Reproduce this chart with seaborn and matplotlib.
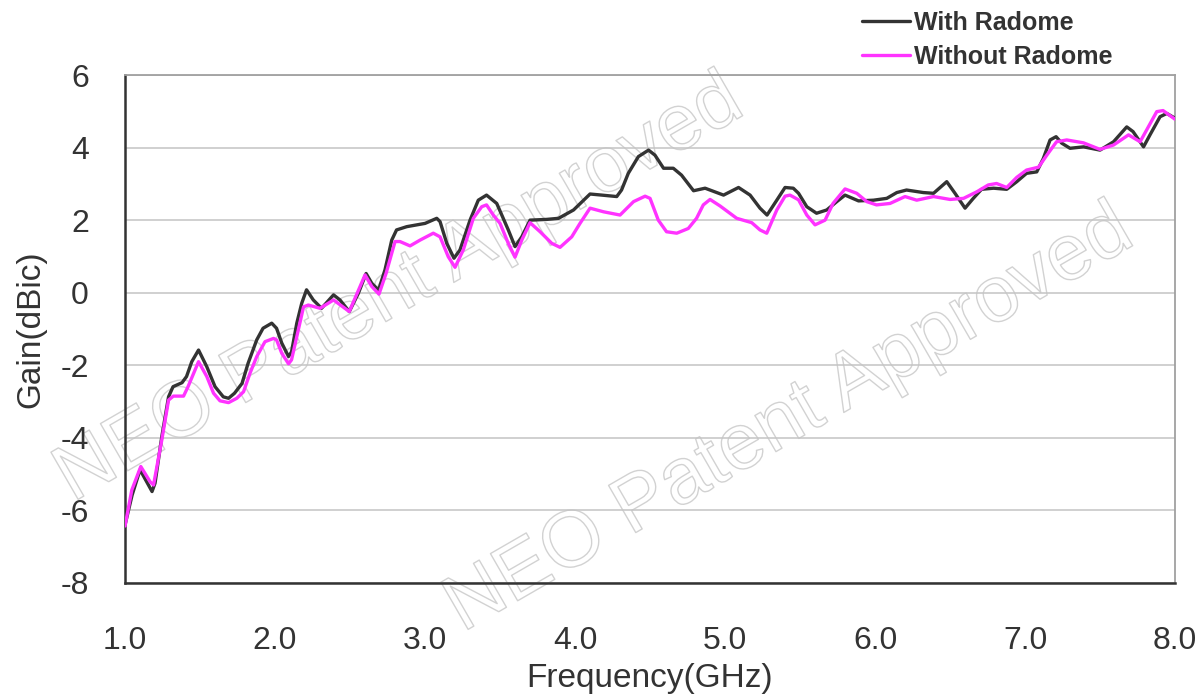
import seaborn as sns
import matplotlib.pyplot as plt
import matplotlib.patheffects as pe
from matplotlib.ticker import MultipleLocator, FormatStrFormatter
import pandas as pd

# With Radome (black)
freq_with = [1.0, 1.047, 1.10, 1.18, 1.20, 1.245, 1.29, 1.32, 1.38, 1.41, 1.445, 1.49, 1.545,
             1.60, 1.655, 1.69, 1.73, 1.78, 1.82, 1.878, 1.92, 1.978, 2.01, 2.045, 2.09, 2.11,
             2.145, 2.178, 2.21, 2.255, 2.31, 2.39, 2.433, 2.495, 2.555, 2.607, 2.645, 2.69,
             2.733, 2.778, 2.81, 2.878, 3.0, 3.078, 3.10, 3.145, 3.193, 3.233, 3.30, 3.355,
             3.41, 3.478, 3.555, 3.60, 3.645, 3.70, 3.81, 3.89, 3.99, 4.10, 4.178, 4.278,
             4.31, 4.355, 4.422, 4.49, 4.533, 4.59, 4.655, 4.71, 4.79, 4.867, 4.99, 5.09,
             5.167, 5.233, 5.28, 5.345, 5.40, 5.455, 5.49, 5.545, 5.61, 5.678, 5.745, 5.80,
             5.89, 5.99, 6.078, 6.145, 6.21, 6.322, 6.39, 6.478, 6.533, 6.60, 6.655, 6.71,
             6.79, 6.878, 6.945, 7.01, 7.078, 7.122, 7.167, 7.207, 7.245, 7.30, 7.39, 7.50,
             7.59, 7.678, 7.72, 7.79, 7.833, 7.90, 7.945, 8.0]
gain_with = [-6.40, -5.58, -4.88, -5.48, -5.25, -3.97, -2.87, -2.59, -2.48, -2.31, -1.90, -1.58, -2.04,
             -2.59, -2.87, -2.91, -2.77, -2.50, -1.95, -1.30, -0.98, -0.84, -0.98, -1.39, -1.76, -1.63,
             -0.84, -0.29, 0.08, -0.20, -0.43, -0.06, -0.20, -0.52, -0.02, 0.53, 0.26, 0.07,
             0.63, 1.45, 1.73, 1.82, 1.91, 2.05, 1.96, 1.36, 0.95, 1.18, 2.00, 2.55,
             2.69, 2.46, 1.73, 1.27, 1.54, 2.00, 2.02, 2.05, 2.28, 2.72, 2.69, 2.65,
             2.83, 3.29, 3.75, 3.93, 3.79, 3.43, 3.43, 3.24, 2.81, 2.88, 2.69, 2.90,
             2.69, 2.33, 2.14, 2.55, 2.90, 2.88, 2.74, 2.37, 2.19, 2.28, 2.51, 2.69,
             2.53, 2.55, 2.60, 2.76, 2.83, 2.76, 2.74, 3.06, 2.74, 2.33, 2.60, 2.85,
             2.88, 2.85, 3.06, 3.29, 3.33, 3.70, 4.21, 4.30, 4.12, 3.98, 4.02, 3.93,
             4.16, 4.57, 4.44, 4.02, 4.35, 4.85, 4.94, 4.81]

# Without Radome (magenta)
freq_without = [1.0, 1.045, 1.105, 1.167, 1.19, 1.245, 1.29, 1.322, 1.39, 1.42, 1.49, 1.545,
                1.59, 1.633, 1.69, 1.745, 1.79, 1.833, 1.878, 1.933, 1.99, 2.01, 2.045, 2.09,
                2.11, 2.145, 2.19, 2.222, 2.30, 2.39, 2.495, 2.60, 2.645, 2.693, 2.74, 2.80,
                2.833, 2.90, 2.967, 3.055, 3.10, 3.155, 3.20, 3.255, 3.322, 3.378, 3.41, 3.455,
                3.50, 3.555, 3.60, 3.645, 3.70, 3.767, 3.845, 3.90, 3.978, 4.033, 4.10, 4.19,
                4.30, 4.39, 4.467, 4.50, 4.555, 4.61, 4.678, 4.755, 4.81, 4.855, 4.90, 4.967,
                5.078, 5.178, 5.233, 5.278, 5.345, 5.40, 5.433, 5.49, 5.545, 5.60, 5.667, 5.72,
                5.80, 5.878, 5.945, 6.01, 6.10, 6.20, 6.278, 6.39, 6.50, 6.59, 6.678, 6.755,
                6.81, 6.878, 6.945, 7.01, 7.09, 7.145, 7.21, 7.278, 7.39, 7.50, 7.59, 7.69,
                7.767, 7.81, 7.878, 7.92, 8.0]
gain_without = [-6.43, -5.44, -4.79, -5.21, -5.30, -4.06, -2.96, -2.85, -2.85, -2.59, -1.90, -2.31,
                -2.77, -2.98, -3.03, -2.91, -2.73, -2.22, -1.76, -1.35, -1.26, -1.30, -1.67, -1.96,
                -1.85, -1.21, -0.39, -0.34, -0.43, -0.20, -0.52, 0.49, 0.17, -0.04, 0.53, 1.41,
                1.41, 1.29, 1.45, 1.64, 1.54, 0.99, 0.70, 1.18, 2.05, 2.37, 2.42, 2.14,
                1.91, 1.36, 0.98, 1.45, 1.93, 1.68, 1.36, 1.25, 1.54, 1.91, 2.33, 2.23,
                2.14, 2.51, 2.66, 2.60, 2.00, 1.68, 1.64, 1.77, 2.05, 2.42, 2.57, 2.39,
                2.05, 1.93, 1.73, 1.64, 2.28, 2.66, 2.69, 2.56, 2.14, 1.87, 2.00, 2.46,
                2.86, 2.74, 2.51, 2.42, 2.46, 2.65, 2.55, 2.65, 2.57, 2.60, 2.78, 2.97,
                3.01, 2.90, 3.18, 3.38, 3.46, 3.79, 4.16, 4.21, 4.13, 3.95, 4.07, 4.35,
                4.16, 4.48, 4.99, 5.02, 4.78]

series_names = ["With Radome", "Without Radome"]
colors = ["#333333", "#ff33ff"]

df = pd.concat([
    pd.DataFrame({"freq": freq_with, "gain": gain_with, "series": series_names[0]}),
    pd.DataFrame({"freq": freq_without, "gain": gain_without, "series": series_names[1]}),
])

sns.set_style("white")
plt.rcParams['font.family'] = ['Liberation Sans', 'DejaVu Sans']
plt.rcParams['axes.unicode_minus'] = False

fig = plt.figure(figsize=(12, 6.99), dpi=100)
ax = fig.add_axes([0.1042, 0.166, 0.875, 0.7267])
ax.set_facecolor("none")
ax.set_zorder(2)

# faint outlined watermark behind the plot
for x, y in [(0.333, 0.585), (0.658, 0.399)]:
    fig.text(x, y, "NEO Patent Approved", fontsize=57, rotation=30, ha="center", va="center",
             color="none", zorder=-5,
             path_effects=[pe.Stroke(linewidth=1.0, foreground="#d2d2d2")])

sns.lineplot(data=df, x="freq", y="gain", hue="series", palette=colors,
             estimator=None, sort=False, linewidth=2.4, ax=ax, zorder=3)
for line in ax.lines:
    line.set_solid_joinstyle("round")

ax.set_xlim(1.0, 8.0)
ax.set_ylim(-8, 6)
ax.xaxis.set_major_locator(MultipleLocator(1.0))
ax.xaxis.set_minor_locator(MultipleLocator(0.5))
ax.xaxis.set_major_formatter(FormatStrFormatter("%.1f"))
ax.yaxis.set_major_locator(MultipleLocator(2))
ax.yaxis.set_minor_locator(MultipleLocator(1))

ax.grid(which="major", axis="y", color="#c4c4c4", linewidth=1.1)
ax.tick_params(which="both", direction="in", length=7, width=1.5, color="#333333",
               labelsize=23, labelcolor="#333333")
ax.tick_params(axis="y", which="both", pad=26)
ax.tick_params(axis="x", which="both", pad=31, top=False)
ax.tick_params(axis="y", which="both", right=False)

for side in ["left", "bottom"]:
    ax.spines[side].set_color("#333333")
    ax.spines[side].set_linewidth(1.8)
for side in ["top", "right"]:
    ax.spines[side].set_color("#a0a0a0")
    ax.spines[side].set_linewidth(1.3)

ax.set_xlabel("Frequency(GHz)", fontsize=24, color="#333333", labelpad=5)
ax.set_ylabel("Gain(dBic)", fontsize=24, color="#333333", labelpad=10)

leg = ax.legend(loc="lower left", bbox_to_anchor=(0.692, 0.992), frameon=False,
                prop={"weight": "bold", "size": 18}, handlelength=1.95, handletextpad=0.15,
                labelspacing=0.42, borderaxespad=0)
for t in leg.get_texts():
    t.set_color("#333333")

fig.savefig("out.png", dpi=100)
